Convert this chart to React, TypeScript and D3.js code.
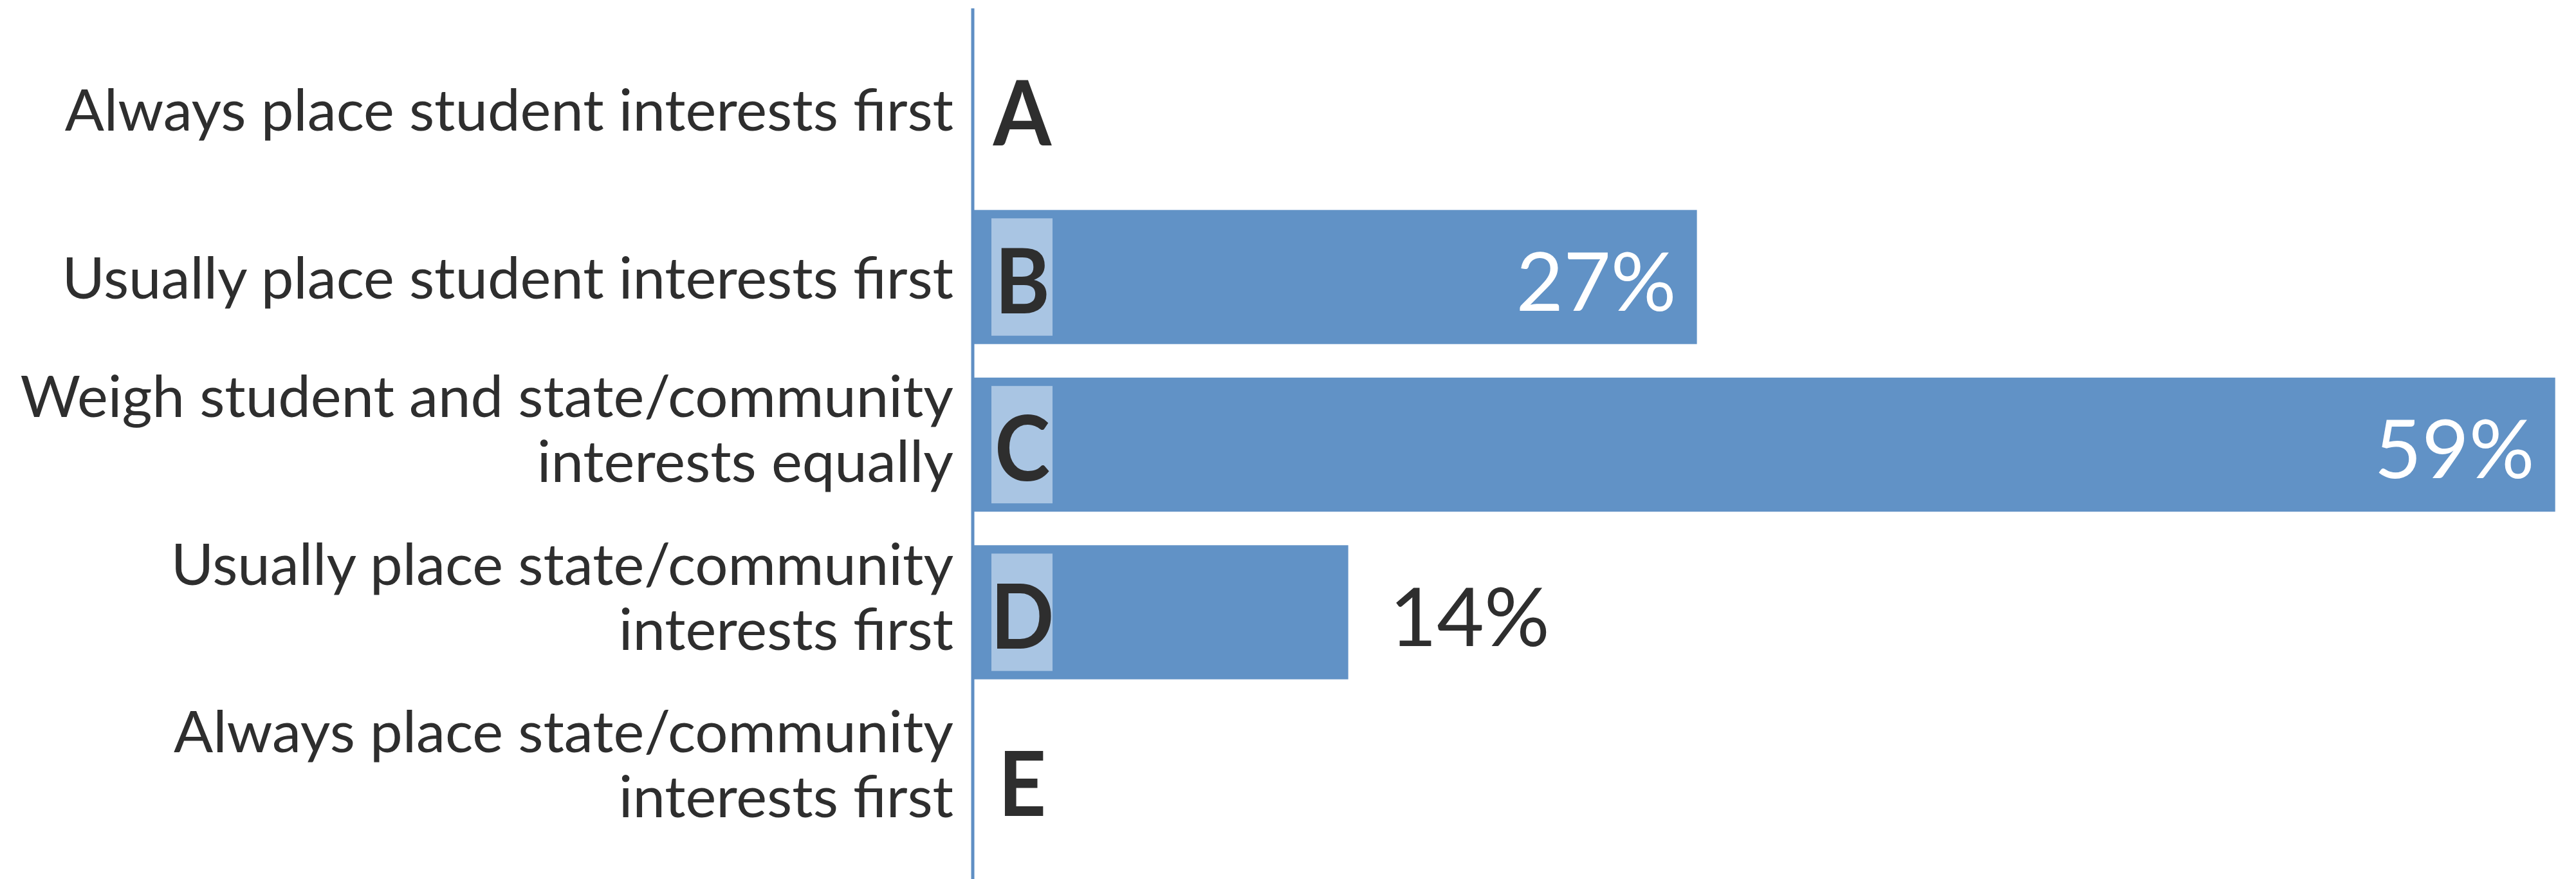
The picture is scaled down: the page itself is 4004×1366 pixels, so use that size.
import React from 'react';
import * as d3 from 'd3';

const letters = ['A', 'B', 'C', 'D', 'E'];
const labelLines = [
  ['Always place student interests first'],
  ['Usually place student interests first'],
  ['Weigh student and state/community', 'interests equally'],
  ['Usually place state/community', 'interests first'],
  ['Always place state/community', 'interests first'],
];
const values = [0, 27, 59, 14, 0];

const W = 4004;
const H = 1366;
const BAR = '#6192c6';
const BOX = '#a9c5e3';
const AXIS = '#5f8fc4';
const TEXT = '#2e2e2e';
const FONT = 'Lato, "Open Sans", sans-serif';
const LABEL_SX = 1.005;

export default function App() {
  const x = d3.scaleLinear().domain([0, 59.2]).range([1512, 3980]);
  const y = d3.scaleBand<string>().domain(letters).range([39.75, 1342.25]).paddingInner(0.2).paddingOuter(0.1);
  const bw = y.bandwidth();
  return (
    <div style={{ position: 'absolute', left: 0, top: 0 }}>
      <svg width={W} height={H} style={{ display: 'block', background: '#fff' }}>
        {letters.map((L, i) => {
          const c = (y(L) as number) + bw / 2;
          const v = values[i];
          const x0 = x(0);
          const x1 = x(v);
          const lines = labelLines[i];
          const inside = v >= 20;
          return (
            <g key={L}>
              {v > 0 && <rect x={x0} y={y(L)} width={x1 - x0} height={bw} fill={BAR} />}
              {v > 0 && <rect x={1541} y={(y(L) as number) + 13} width={95} height={bw - 26} fill={BOX} />}
              <g transform={`translate(1589,${c + 56}) scale(0.93,1)`}>
                <text x={0} y={0} textAnchor="middle" fontFamily={FONT} fontWeight={700} fontSize={140} fill={TEXT}>{L}</text>
              </g>
              {v > 0 && (
                <text
                  x={inside ? x1 - 32 : x1 + 64}
                  y={c + 52}
                  textAnchor={inside ? 'end' : 'start'}
                  fontFamily={FONT}
                  fontWeight={400}
                  fontSize={127}
                  fill={inside ? '#ffffff' : TEXT}
                >{v}%</text>
              )}
              {lines.map((t, j) => {
                const by = lines.length === 1 ? c + 33 : c + (j === 0 ? -43 : 58);
                return (
                  <text key={j} transform={`translate(1482,${by}) scale(${LABEL_SX},1)`} textAnchor="end" fontFamily={FONT} fontSize={90} fill={TEXT}>{t}</text>
                );
              })}
            </g>
          );
        })}
        <line x1={1512} x2={1512} y1={13} y2={H} stroke={AXIS} strokeWidth={5} />
      </svg>
    </div>
  );
}
